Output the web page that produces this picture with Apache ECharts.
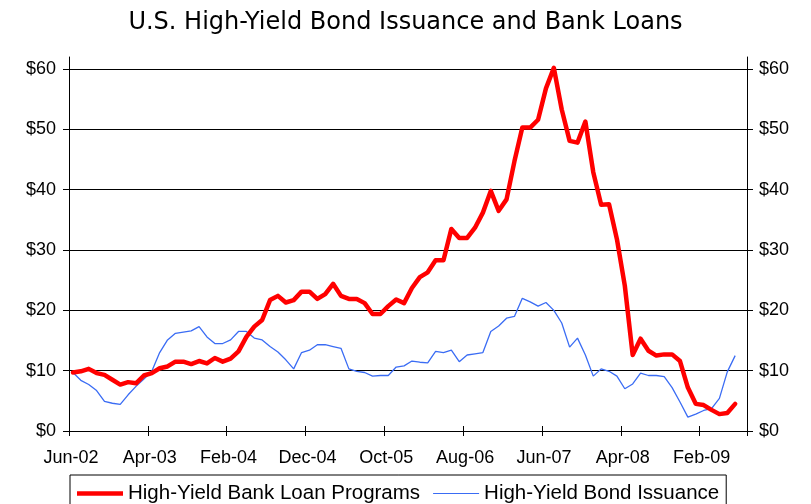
<!DOCTYPE html>
<html>
<head>
<meta charset="utf-8">
<script src="https://cdn.jsdelivr.net/npm/echarts@6/dist/echarts.min.js"></script>
<style>
  html, body { margin: 0; padding: 0; background: #fff; }
  #chart { width: 811px; height: 504px; }
</style>
</head>
<body>
<div id="chart"></div>
<script>
// Monthly categories, Jun-02 through Jul-09
const monthNames = ['Jan','Feb','Mar','Apr','May','Jun','Jul','Aug','Sep','Oct','Nov','Dec'];
const months = [];
for (let k = 0; k < 86; k++) {
  const m = (5 + k) % 12;
  const y = 2 + Math.floor((5 + k) / 12);
  months.push(monthNames[m] + '-' + String(y).padStart(2, '0'));
}

// High-yield bank loan programs ($ billions), Jun-02 .. Jun-09
const bankLoans = [
  9.7, 9.9, 10.3, 9.6, 9.3, 8.5, 7.7, 8.1, 7.9, 9.2,
  9.6, 10.4, 10.7, 11.5, 11.5, 11.1, 11.6, 11.2, 12.1, 11.5,
  12.0, 13.2, 15.6, 17.3, 18.4, 21.7, 22.4, 21.3, 21.7, 23.1,
  23.1, 21.9, 22.7, 24.4, 22.4, 21.9, 21.9, 21.2, 19.4, 19.4,
  20.7, 21.8, 21.2, 23.7, 25.5, 26.3, 28.3, 28.3, 33.5, 32.0,
  32.0, 33.7, 36.2, 39.8, 36.5, 38.4, 44.7, 50.3, 50.3, 51.6,
  56.8, 60.2, 53.3, 48.1, 47.8, 51.3, 42.9, 37.5, 37.6, 31.8,
  24.1, 12.6, 15.3, 13.3, 12.5, 12.7, 12.7, 11.6, 7.2, 4.5,
  4.3, 3.5, 2.8, 3.0, 4.5
];

// High-yield bond issuance ($ billions), Jun-02 .. Jun-09
const bondIssuance = [
  9.7, 8.4, 7.7, 6.7, 4.9, 4.6, 4.4, 6.0, 7.4, 8.6,
  9.9, 13.0, 15.1, 16.2, 16.4, 16.6, 17.3, 15.6, 14.5, 14.5,
  15.1, 16.5, 16.5, 15.4, 15.1, 14.0, 13.1, 11.8, 10.3, 13.0,
  13.4, 14.3, 14.3, 14.0, 13.7, 10.3, 9.9, 9.7, 9.1, 9.2,
  9.2, 10.6, 10.8, 11.6, 11.4, 11.3, 13.2, 13.0, 13.4, 11.5,
  12.6, 12.8, 13.0, 16.5, 17.4, 18.7, 19.0, 22.0, 21.4, 20.7,
  21.3, 20.0, 17.9, 13.9, 15.4, 12.6, 9.1, 10.3, 9.9, 9.1,
  7.0, 7.8, 9.6, 9.2, 9.2, 9.0, 7.2, 4.8, 2.3, 2.8,
  3.4, 3.7, 5.4, 9.8, 12.5
];

const yTicks = [0, 10, 20, 30, 40, 50, 60];
const seriesNames = ['High-Yield Bank Loan Programs', 'High-Yield Bond Issuance'];

const labelFont = 'Liberation Sans, Arial, sans-serif';
const loanColor = '#ff0000';
const bondColor = '#3a6cf4';

const chart = echarts.init(document.getElementById('chart'), null, { renderer: 'canvas' });

function yAxisCfg(pos) {
  return {
    type: 'value',
    position: pos,
    min: 0,
    max: 62,
    interval: 10,
    axisLine: { show: true, lineStyle: { color: '#000', width: 1 } },
    axisTick: { show: true, length: 6, lineStyle: { color: '#000' }, customValues: yTicks },
    axisLabel: {
      color: '#000',
      fontFamily: labelFont,
      fontSize: 18,
      margin: pos === 'left' ? 13 : 12,
      customValues: yTicks,
      formatter: v => '$' + v
    },
    splitLine: {
      show: pos === 'left',
      lineStyle: { color: ['#000', '#000', '#000', '#000', '#000', '#000', '#000', '#999'], width: 1 }
    }
  };
}

const option = {
  backgroundColor: '#fff',
  animation: false,
  title: {
    text: 'U.S. High-Yield Bond Issuance and Bank Loans',
    left: 'center',
    top: 6,
    textStyle: {
      fontFamily: 'DejaVu Sans, Verdana, sans-serif',
      fontWeight: 'normal',
      fontSize: 24,
      color: '#000'
    }
  },
  legend: {
    data: [
      { name: seriesNames[0], icon: 'path://M0,0H46V4.5H0Z' },
      { name: seriesNames[1], icon: 'path://M0,0H46V1.2H0Z' }
    ],
    left: 70,
    top: 475,
    orient: 'horizontal',
    itemWidth: 46,
    itemHeight: 14,
    itemGap: 13,
    padding: [8, 7, 10, 7],
    borderColor: '#000',
    borderWidth: 1,
    borderRadius: 0,
    textStyle: { fontFamily: labelFont, fontSize: 20.5, color: '#000' }
  },
  grid: {
    left: 69,
    right: 64,
    top: 57,
    bottom: 73,
    containLabel: false
  },
  xAxis: [
    {
      type: 'category',
      data: months,
      boundaryGap: true,
      axisLine: { show: true, lineStyle: { color: '#000', width: 1 } },
      axisTick: { show: true, interval: 9, length: 5, lineStyle: { color: '#000' } },
      axisLabel: {
        interval: 9,
        color: '#000',
        fontFamily: labelFont,
        fontSize: 18,
        margin: 18,
        padding: [0, 4, 0, 0]
      },
      splitLine: { show: false }
    },
    {
      // inner half of the crossing tick marks
      type: 'category',
      data: months,
      position: 'bottom',
      boundaryGap: true,
      axisLine: { show: false },
      axisTick: { show: true, inside: true, interval: 9, length: 5, lineStyle: { color: '#000' } },
      axisLabel: { show: false },
      splitLine: { show: false }
    }
  ],
  yAxis: [yAxisCfg('left'), yAxisCfg('right')],
  series: [
    {
      name: seriesNames[0],
      type: 'line',
      data: bankLoans,
      xAxisIndex: 0,
      yAxisIndex: 0,
      symbol: 'none',
      smooth: false,
      lineStyle: { color: loanColor, width: 4.5, join: 'round', cap: 'round' },
      itemStyle: { color: loanColor },
      z: 3
    },
    {
      name: seriesNames[1],
      type: 'line',
      data: bondIssuance,
      xAxisIndex: 0,
      yAxisIndex: 0,
      symbol: 'none',
      smooth: false,
      lineStyle: { color: bondColor, width: 1.3 },
      itemStyle: { color: bondColor },
      z: 2
    }
  ]
};

chart.setOption(option);
</script>
</body>
</html>
